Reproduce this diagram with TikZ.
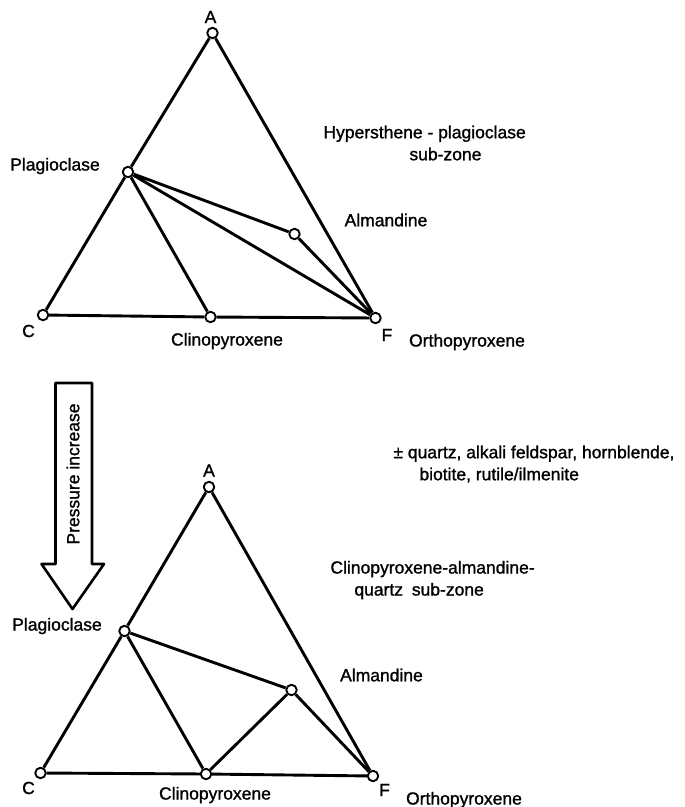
\documentclass[tikz,border=0pt]{standalone}
\usepackage{fontspec}
\setmainfont{Liberation Sans}[BoldFont={Liberation Sans},BoldFeatures={FakeBold=1.2}]
\tikzset{
  pt/.style={circle,draw,fill=white,line width=1.9pt,inner sep=0pt,minimum size=10.5pt},
  lbl/.style={font=\fontsize{17.5}{22}\selectfont\bfseries,inner sep=0pt}
}
\begin{document}
\begin{tikzpicture}[x=1pt,y=-1pt,line width=2.9pt,line join=round]
\useasboundingbox (0,0) rectangle (685,807);
% upper diagram
\node[pt] (A1) at (212.5,33) {};
\node[pt] (P1) at (128,172) {};
\node[pt] (M1) at (294.5,234) {};
\node[pt] (C1) at (43,315) {};
\node[pt] (X1) at (210.5,317) {};
\node[pt] (F1) at (375.5,318) {};
\draw (A1) -- (P1) -- (C1) -- (X1) -- (F1) -- (A1);
\draw (P1) -- (X1) (P1) -- (F1) (P1) -- (M1) -- (F1);
\node[lbl] (a1) at (210.5,17) {A};
\node[lbl] (c1) at (28.5,331) {C};
\node[lbl] (f1) at (387,335) {F};
\node[lbl] (plag1) at (55,166) {Plagioclase};
\node[lbl] (alm1) at (386,220) {Almandine};
\node[lbl] (cpx1) at (227,341) {Clinopyroxene};
\node[lbl] (opx1) at (467,342) {Orthopyroxene};
\node[lbl,align=left,anchor=west] (zone1) at (322,143) {Hypersthene - plagioclase\\\hspace*{86pt}sub-zone};
% arrow
\draw[line width=2.6pt] (55.5,383) -- (92,383) -- (92,564) -- (104,564) -- (72.5,609)
  -- (41.5,564) -- (55.5,564) -- cycle;
\node[lbl,rotate=90] (press) at (73,474) {Pressure increase};
\node[lbl,align=left,anchor=west] (extra) at (392,464) {± quartz, alkali feldspar, hornblende,\\\hspace*{26pt}biotite, rutile/ilmenite};
% lower diagram
\node[pt] (A2) at (209,487) {};
\node[pt] (P2) at (124.5,631) {};
\node[pt] (M2) at (291.5,690) {};
\node[pt] (C2) at (40.5,773) {};
\node[pt] (X2) at (206,774) {};
\node[pt] (F2) at (373,776) {};
\draw (A2) -- (P2) -- (C2) -- (X2) -- (F2) -- (A2);
\draw (P2) -- (X2) (P2) -- (M2) -- (F2) (M2) -- (X2);
\node[lbl] (a2) at (209,470.5) {A};
\node[lbl] (c2) at (28.5,788) {C};
\node[lbl] (f2) at (384.5,790) {F};
\node[lbl] (plag2) at (57,626) {Plagioclase};
\node[lbl] (alm2) at (381.5,675) {Almandine};
\node[lbl] (cpx2) at (215,795) {Clinopyroxene};
\node[lbl] (opx2) at (464,800) {Orthopyroxene};
\node[lbl,align=left,anchor=west] (zone2) at (329,580) {Clinopyroxene-almandine-\\\hspace*{24pt}quartz\enspace sub-zone};
\end{tikzpicture}
\end{document}
